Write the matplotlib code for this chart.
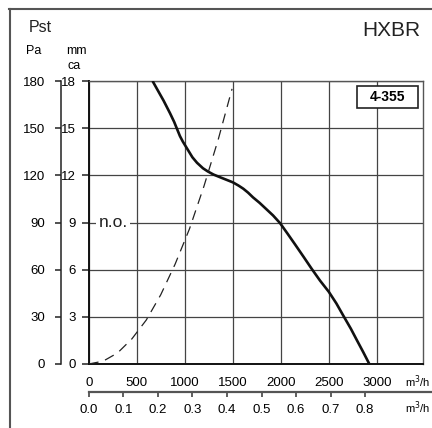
import matplotlib
matplotlib.use("Agg")
import matplotlib.pyplot as plt
from matplotlib import font_manager
from matplotlib.patches import Rectangle
from matplotlib.lines import Line2D


# fan curve (m3/h, Pa)
FAN_FLOW = [665, 720, 780, 847, 890, 920, 950, 980, 1010, 1040, 1080, 1128, 1190, 1240, 1300, 1380, 1450,
            1503, 1560, 1610, 1660, 1711, 1780, 1850, 1920, 1993, 2070, 2150, 2240, 2323, 2410, 2500,
            2580, 2659, 2730, 2792, 2860, 2923]
FAN_PA = [180, 174, 167.5, 159.5, 154, 149.5, 145, 141.5, 138.5, 135.5, 131.5, 128, 124.5, 122.5, 120.5,
          118.5, 116.8, 115.5, 113.5, 111.5, 109, 106, 102.5, 98.5, 94.5, 89.6, 83, 76, 68, 60.5, 53, 46,
          38.5, 30, 22.5, 15.3, 7.5, 0]

# system curve (dashed)
SYS_FLOW = [0, 150, 300, 450, 600, 750, 900, 1050, 1200, 1350, 1493]
SYS_PA = [0, 1.8, 7, 16, 28, 44, 63.5, 86, 113, 143, 175]

PA_TICKS = [0, 30, 60, 90, 120, 150, 180]
MMCA_LABELS = ["0", "3", "6", "9", "12", "15", "18"]
FLOW_TICKS = [0, 500, 1000, 1500, 2000, 2500, 3000]
M3S_TICKS = [0.0, 0.1, 0.2, 0.3, 0.4, 0.5, 0.6, 0.7, 0.8]

MODEL = "HXBR"
SIZE_LABEL = "4-355"

W, H = 432, 428


def pick_font():
    names = {f.name for f in font_manager.fontManager.ttflist}
    if "Liberation Sans Narrow" in names:
        return "Liberation Sans Narrow"
    return "Liberation Sans"


def fx(px):
    return px / W


def fy(py):
    return 1 - py / H


def main():
    narrow = pick_font()
    plt.rcParams["font.family"] = ["Liberation Sans", "DejaVu Sans"]

    fig = plt.figure(figsize=(W / 100, H / 100), dpi=100)

    # outer frame (only top and left visible)
    fig.add_artist(Line2D([fx(9), fx(W + 5)], [fy(8.5), fy(8.5)], color="#555555", lw=1.5))
    fig.add_artist(Line2D([fx(9.5), fx(9.5)], [fy(8.5), fy(H + 5)], color="#555555", lw=1.5))

    left, right, top, bottom = 88.7, 423, 81, 364
    ax = fig.add_axes([fx(left), fy(bottom), (right - left) / W, (bottom - top) / H])
    ax.set_xlim(0, 3482)
    ax.set_ylim(0, 180)

    ax.plot(FAN_FLOW, FAN_PA, color="#111111", lw=1.9, solid_capstyle="butt",
            solid_joinstyle="round", zorder=4)
    ax.plot(SYS_FLOW, SYS_PA, color="#222222", lw=0.9, dashes=(8, 5.5), dash_capstyle="butt",
            zorder=4)

    ax.set_xticks(FLOW_TICKS)
    ax.set_xticklabels([str(t) for t in FLOW_TICKS], fontfamily=narrow, fontsize=9.5)
    ax.set_yticks(PA_TICKS)
    ax.set_yticklabels(MMCA_LABELS, fontfamily=narrow, fontsize=9.5)
    ax.tick_params(axis="x", length=0, pad=9)
    ax.tick_params(axis="y", length=5, width=1.1, pad=4, color="#222222")
    ax.grid(True, color="#444444", lw=0.9)
    for side in ["top", "right"]:
        ax.spines[side].set_color("#555555")
        ax.spines[side].set_linewidth(1.0)
    for side in ["left", "bottom"]:
        ax.spines[side].set_color("#111111")
        ax.spines[side].set_linewidth(1.4)

    ax.text(100, 90, "n.o.", fontsize=12.5, fontfamily=narrow, ha="left", va="center",
            color="#222222", bbox=dict(facecolor="white", edgecolor="none", pad=1.5), zorder=5)

    # size label box
    ax.add_patch(Rectangle((0.8026, 0.9046), 0.1824, 0.0774, transform=ax.transAxes,
                           facecolor="white", edgecolor="#222222", lw=1.2, zorder=6))
    ax.text(0.894, 0.943, SIZE_LABEL, transform=ax.transAxes, fontsize=10, fontweight="bold",
            fontfamily=narrow, ha="center", va="center", zorder=7)

    # Pa axis on the far left
    pa = fig.add_axes([fx(60.5), fy(bottom), 0.001, (bottom - top) / H])
    pa.set_ylim(0, 180)
    pa.set_yticks(PA_TICKS)
    pa.set_yticklabels([str(t) for t in PA_TICKS], fontfamily=narrow, fontsize=9.5)
    pa.set_xticks([])
    for side in ["top", "right", "bottom"]:
        pa.spines[side].set_visible(False)
    pa.spines["left"].set_color("#222222")
    pa.spines["left"].set_linewidth(1.1)
    pa.tick_params(axis="y", length=4, width=1.1, pad=7, color="#222222")
    pa.patch.set_visible(False)

    # m3/s axis below
    ms = fig.add_axes([fx(left), fy(392), (W - left) / W, 0.001])
    ms.set_xlim(0, 3576 / 3600)
    ms.set_xticks(M3S_TICKS)
    ms.set_xticklabels([f"{t:.1f}" for t in M3S_TICKS], fontfamily=narrow, fontsize=9.5)
    ms.set_yticks([])
    for side in ["top", "right", "left"]:
        ms.spines[side].set_visible(False)
    ms.spines["bottom"].set_color("#555555")
    ms.spines["bottom"].set_linewidth(1.6)
    ms.tick_params(axis="x", length=3.5, width=1.1, pad=5, color="#333333")
    ms.patch.set_visible(False)

    fig.text(fx(430), fy(382), "m$^3$/h", fontsize=8, fontfamily=narrow, ha="right", va="center")
    fig.text(fx(430), fy(408), "m$^3$/h", fontsize=8, fontfamily=narrow, ha="right", va="center")

    fig.text(fx(391), fy(31), MODEL, fontsize=15, ha="center", va="center", color="#222222")
    fig.text(fx(40), fy(28), "Pst", fontsize=11.5, ha="center", va="center", color="#222222")
    fig.text(fx(34), fy(51), "Pa", fontsize=9, fontfamily=narrow, ha="center", va="center")
    fig.text(fx(66), fy(51), "mm", fontsize=9, fontfamily=narrow, ha="left", va="center")
    fig.text(fx(67), fy(66), "ca", fontsize=9, fontfamily=narrow, ha="left", va="center")

    fig.savefig("out.png", dpi=100)
    plt.close(fig)


if __name__ == "__main__":
    main()
